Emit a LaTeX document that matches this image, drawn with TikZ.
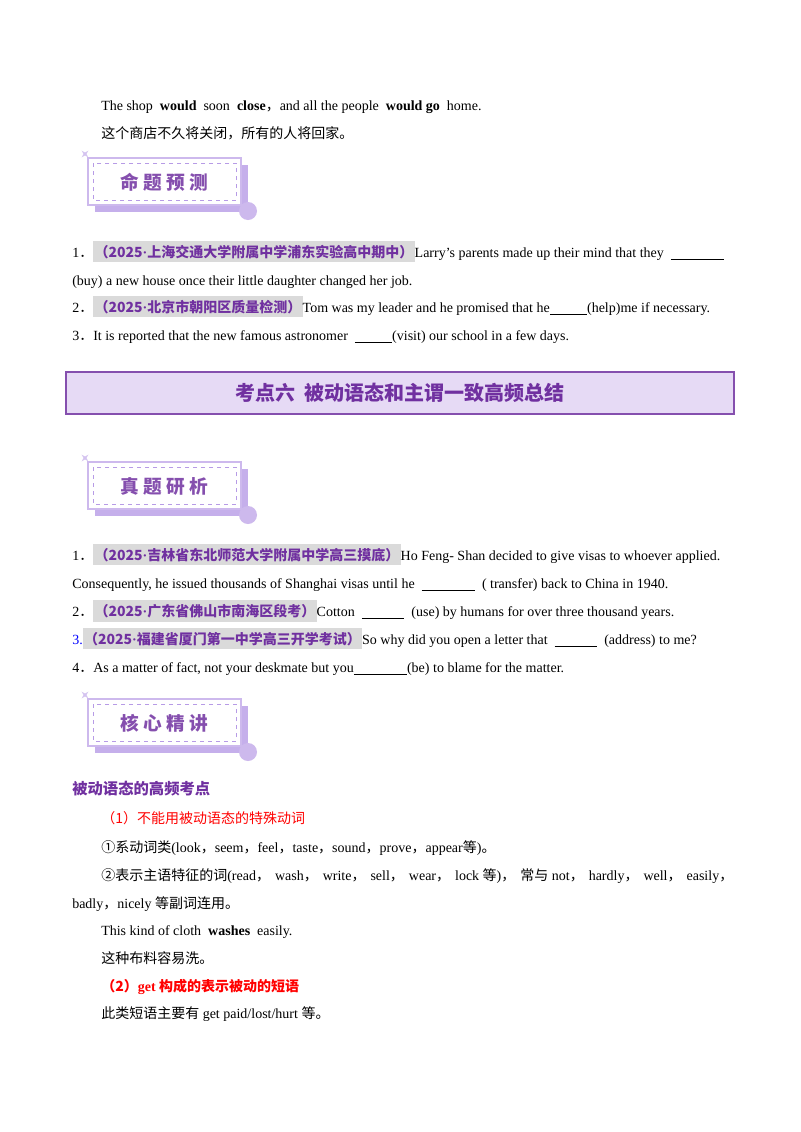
\documentclass[tikz,border=0pt]{standalone}
\usepackage{fontspec}
\setmainfont{Liberation Serif}
\newfontfamily\cjk{Noto Sans CJK SC}
\usetikzlibrary{shapes.geometric}
\definecolor{pur}{HTML}{7030A0}
\definecolor{lav}{HTML}{E6DAF5}
\definecolor{lavb}{HTML}{B79BE6}
\definecolor{hl}{HTML}{DADADA}
\newcommand{\C}[1]{{\cjk #1}}
\newcommand{\blank}[1]{\underline{\hspace{#1}}}
\newcommand{\src}[2]{\colorbox{hl}{\kern-2pt\textcolor{pur}{\bfseries\cjk （2025{\rmfamily·}#1）}\kern-2pt}}
\newcommand{\mybadge}[4]{% name, x, y, text
 \fill[lavb!80] (#2+7,#3+7) rectangle (#2+160,#3+54);
 \fill[white] (#2,#3) rectangle (#2+153,#3+47);
 \draw[lavb!70,line width=0.8pt] (#2,#3) rectangle (#2+153,#3+47);
 \draw[lavb,dashed,line width=0.5pt] (#2+5,#3+5) rectangle (#2+148,#3+42);
 \fill[lavb!70] (#2+160,#3+53) circle (9);
 \node[star,star points=4,star point ratio=0.3,fill=lavb!60,inner sep=2.5pt] at (#2-3,#3-4) {};
 \node[text=pur!85,font=\cjk\bfseries\fontsize{14}{16}\selectfont] (#1) at (#2+76,#3+24) {#4};}
\begin{document}
\begin{tikzpicture}[x=0.75pt,y=-0.75pt,
 t/.style={anchor=base west,inner sep=0pt,font=\fontsize{10.5}{12}\selectfont},
 red/.style={t,text=red}]
\useasboundingbox (0,0) rectangle (800,1132);
\fill[white] (0,0) rectangle (800,1132);
\node[t] (l1) at (101,110) {The shop \ \textbf{would} \ soon \ \textbf{close}\C{，}and all the people \ \textbf{would go} \ home.};
\node[t] (l2) at (101,138) {\C{这个商店不久将关闭，所有的人将回家。}};
\mybadge{b1}{88}{158}{命\ 题\ 预\ 测}
\node[t] (q1) at (72,257) {1\C{．}\src{上海交通大学附属中学浦东实验高中期中}{}Larry’s parents made up their mind that they \ \blank{40pt}};
\node[t] (q1b) at (72,285) {(buy) a new house once their little daughter changed her job.};
\node[t] (q2) at (72,312) {2\C{．}\src{北京市朝阳区质量检测}{}Tom was my leader and he promised that he\blank{28pt}(help)me if necessary.};
\node[t] (q3) at (72,340) {3\C{．}It is reported that the new famous astronomer \ \blank{28pt}(visit) our school in a few days.};
\node[draw=pur!85,line width=1.6pt,fill=lav,minimum width=501pt,minimum height=32pt,inner sep=0pt,
 text=pur,font=\cjk\bfseries\fontsize{15}{17}\selectfont] (title) at (400,393) {考点六\ \ 被动语态和主谓一致高频总结};
\mybadge{b2}{88}{462}{真\ 题\ 研\ 析}
\node[t] (p1) at (72,560) {1\C{．}\src{吉林省东北师范大学附属中学高三摸底}{}Ho Feng- Shan decided to give visas to whoever applied.};
\node[t] (p1b) at (72,588) {Consequently, he issued thousands of Shanghai visas until he \ \blank{40pt}\ \ ( transfer) back to China in 1940.};
\node[t] (p2) at (72,616) {2\C{．}\src{广东省佛山市南海区段考}{}Cotton \ \blank{32pt}\ \ (use) by humans for over three thousand years.};
\node[t] (p3) at (72,644) {\textcolor{blue}{3.}\src{福建省厦门第一中学高三开学考试}{}So why did you open a letter that \ \blank{32pt}\ \ (address) to me?};
\node[t] (p4) at (72,672) {4\C{．}As a matter of fact, not your deskmate but you\blank{40pt}(be) to blame for the matter.};
\mybadge{b3}{88}{699}{核\ 心\ 精\ 讲}
\node[t,text=pur,font=\cjk\bfseries\fontsize{11.5}{13}\selectfont] (h) at (72,794) {被动语态的高频考点};
\node[red,font=\cjk\fontsize{10.5}{12}\selectfont] (r1) at (101,823) {（1）不能用被动语态的特殊动词};
\node[t] (k1) at (101,852) {\C{①系动词类}(look\C{，}seem\C{，}feel\C{，}taste\C{，}sound\C{，}prove\C{，}appear\C{等})\C{。}};
\node[t] (k2) at (101,880) {\hbox to 474pt{\C{②表示主语特征的词}(read\C{，}\hfil wash\C{，}\hfil write\C{，}\hfil sell\C{，}\hfil wear\C{，}\hfil lock \C{等})\C{，}\hfil\C{常与} not\C{，}\hfil hardly\C{，}\hfil well\C{，}\hfil easily\C{，}}};
\node[t] (k3) at (72,908) {badly\C{，}nicely \C{等副词连用。}};
\node[t] (k4) at (101,935) {This kind of cloth \ \textbf{washes} \ easily.};
\node[t] (k5) at (101,963) {\C{这种布料容易洗。}};
\node[red,font=\bfseries\fontsize{10.5}{12}\selectfont] (r2) at (101,991) {\C{（2）}get \C{构成的表示被动的短语}};
\node[t] (k6) at (101,1018) {\C{此类短语主要有} get paid/lost/hurt \C{等。}};
\end{tikzpicture}
\end{document}
